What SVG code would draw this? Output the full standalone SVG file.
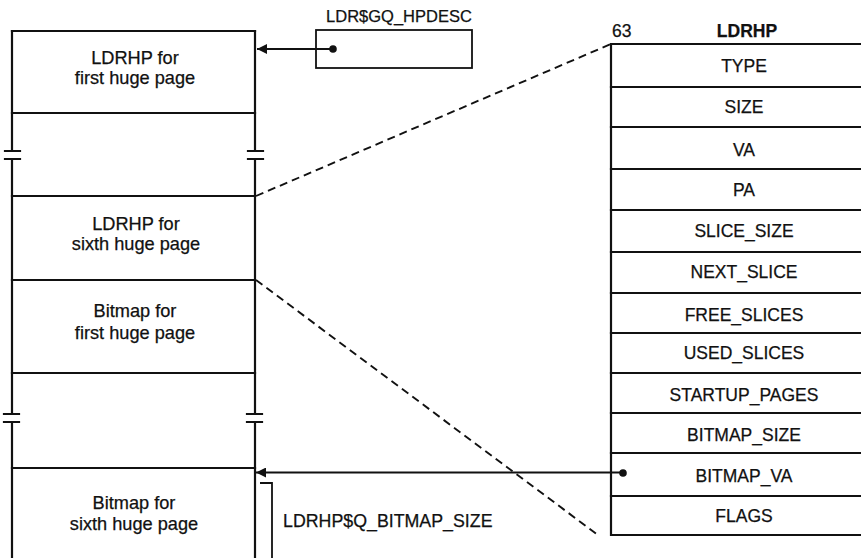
<svg xmlns="http://www.w3.org/2000/svg" width="861" height="558" viewBox="0 0 861 558">
  <style>
    .bg { fill: #ffffff; }
    .ln { stroke: #111111; stroke-width: 2.2; fill: none; stroke-linecap: square; }
    .thin { stroke: #111111; stroke-width: 1.8; fill: none; }
    .dash { stroke: #111111; stroke-width: 1.9; fill: none; stroke-dasharray: 8 5; }
    .t { font-family: "Liberation Sans", Arial, Helvetica, sans-serif; font-size: 17.5px; fill: #111111; stroke: #111111; stroke-width: 0.25; }
    .c { text-anchor: middle; }
    .lt { font-size: 18.2px; }
    .sm { font-size: 16.5px; }
    .b { font-weight: bold; }
  </style>
  <defs>
    <marker id="arrow" viewBox="0 0 10 10" refX="10" refY="5" markerWidth="12" markerHeight="10" markerUnits="userSpaceOnUse" orient="auto">
      <path d="M0,0 L10,5 L0,10 Z" fill="#111111"/>
    </marker>
  </defs>
  <rect class="bg" x="0" y="0" width="861" height="558"/>

  <!-- Memory column: huge page descriptors followed by bitmaps -->
  <g id="memory-column">
    <!-- vertical sides, broken twice to mark omitted entries -->
    <path class="ln" d="M12,31 V151 M12,159 V414 M12,422 V558"/>
    <path class="ln" d="M255,31 V151 M255,159 V414 M255,422 V558"/>
    <path class="ln" d="M5,151 H20 M5,159 H20 M4,414 H19 M4,422 H19"/>
    <path class="ln" d="M248,151 H263 M248,159 H263 M247,414 H262 M247,422 H262"/>
  </g>
  <g id="ldrhp-first">
    <path class="ln" d="M12,31 H255 M12,113 H255"/>
    <text class="t lt c" x="135" y="64">LDRHP for</text>
    <text class="t lt c" x="135" y="84">first huge page</text>
  </g>
  <g id="ldrhp-gap">
    <path class="ln" d="M12,196 H255"/>
  </g>
  <g id="ldrhp-sixth">
    <path class="ln" d="M12,280 H255"/>
    <text class="t lt c" x="136" y="230">LDRHP for</text>
    <text class="t lt c" x="136" y="250">sixth huge page</text>
  </g>
  <g id="bitmap-first">
    <path class="ln" d="M12,373 H255"/>
    <text class="t lt c" x="135" y="317">Bitmap for</text>
    <text class="t lt c" x="135" y="339">first huge page</text>
  </g>
  <g id="bitmap-gap">
    <path class="ln" d="M12,468 H255"/>
  </g>
  <g id="bitmap-sixth">
    <text class="t lt c" x="134" y="509">Bitmap for</text>
    <text class="t lt c" x="134" y="530">sixth huge page</text>
  </g>

  <!-- Global pointer cell -->
  <g id="hpdesc">
    <text class="t sm c" x="399" y="22">LDR$GQ_HPDESC</text>
    <rect class="thin" x="316" y="30" width="156" height="38"/>
  </g>

  <!-- LDRHP structure layout -->
  <g id="ldrhp-struct">
    <text class="t" x="612" y="37">63</text>
    <text class="t b c" x="747" y="37">LDRHP</text>
    <path class="ln" d="M611,44 V535 M611,44 H875 M611,535 H875"/>
    <path class="ln" d="M611,87 H875 M611,127 H875 M611,169 H875 M611,210 H875 M611,252 H875 M611,293 H875 M611,333 H875 M611,373 H875 M611,413 H875 M611,453 H875 M611,496 H875"/>
    <g id="f-type"><text class="t c" x="744" y="72">TYPE</text></g>
    <g id="f-size"><text class="t c" x="744" y="113">SIZE</text></g>
    <g id="f-va"><text class="t c" x="744" y="156">VA</text></g>
    <g id="f-pa"><text class="t c" x="744" y="196">PA</text></g>
    <g id="f-slice-size"><text class="t c" x="744" y="237">SLICE_SIZE</text></g>
    <g id="f-next-slice"><text class="t c" x="744" y="278">NEXT_SLICE</text></g>
    <g id="f-free-slices"><text class="t c" x="744" y="321">FREE_SLICES</text></g>
    <g id="f-used-slices"><text class="t c" x="744" y="359">USED_SLICES</text></g>
    <g id="f-startup-pages"><text class="t c" x="744" y="401">STARTUP_PAGES</text></g>
    <g id="f-bitmap-size"><text class="t c" x="744" y="441">BITMAP_SIZE</text></g>
    <g id="f-bitmap-va"><text class="t c" x="744" y="482">BITMAP_VA</text></g>
    <g id="f-flags"><text class="t c" x="744" y="522">FLAGS</text></g>
  </g>

  <!-- Bitmap size label -->
  <g id="bitmap-size-label">
    <text class="t" x="283" y="527" style="font-size:17.8px">LDRHP$Q_BITMAP_SIZE</text>
  </g>

  <!-- Connectors -->
  <g id="connectors">
    <!-- pointer to first descriptor -->
    <circle cx="333" cy="49" r="3.8" fill="#111111"/>
    <line class="thin" x1="333" y1="49" x2="257" y2="49" marker-end="url(#arrow)"/>
    <!-- BITMAP_VA pointer -->
    <circle cx="623" cy="473" r="3.8" fill="#111111"/>
    <line class="thin" x1="623" y1="472.5" x2="256" y2="472.5" marker-end="url(#arrow)"/>
    <!-- expansion of sixth descriptor -->
    <line class="dash" x1="256" y1="196" x2="611" y2="44"/>
    <line class="dash" x1="256" y1="280" x2="598" y2="535"/>
    <!-- bitmap size bracket -->
    <path class="thin" d="M260,483 H272 V558"/>
  </g>
</svg>
